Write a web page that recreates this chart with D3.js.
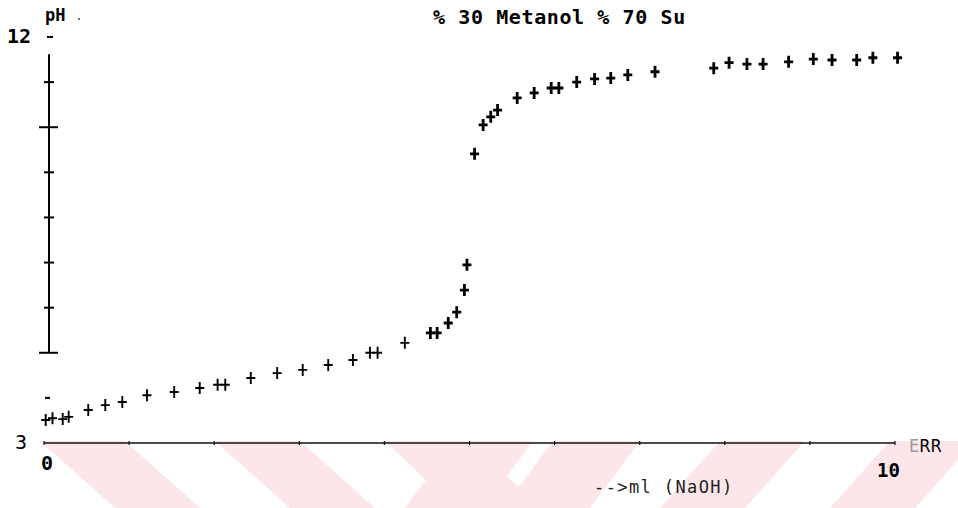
<!DOCTYPE html>
<html>
<head>
<meta charset="utf-8">
<script src="https://cdn.jsdelivr.net/npm/d3@7"></script>
<style>
  body { margin: 0; background: #fff; }
  svg { display: block; }
</style>
</head>
<body>
<div id="chart"></div>
<script>
// titration readings
var mlNaOH = [0.02, 0.10, 0.22, 0.29, 0.52, 0.72, 0.92, 1.21, 1.53, 1.83,
              2.04, 2.13, 2.43, 2.74, 3.04, 3.34, 3.63, 3.83, 3.92, 4.24,
              4.54, 4.62, 4.75, 4.85, 4.94, 4.97, 5.06, 5.16, 5.25, 5.33,
              5.56, 5.76, 5.96, 6.05, 6.26, 6.47, 6.66, 6.86, 7.18, 7.87,
              8.05, 8.26, 8.45, 8.75, 9.04, 9.26, 9.55, 9.74, 10.03];
var pHValues = [3.51, 3.55, 3.53, 3.58, 3.73, 3.84, 3.91, 4.06, 4.13, 4.22,
                4.29, 4.29, 4.44, 4.55, 4.62, 4.73, 4.84, 5.00, 5.00, 5.22,
                5.44, 5.44, 5.66, 5.90, 6.39, 6.95, 9.41, 10.05, 10.23, 10.38,
                10.65, 10.76, 10.87, 10.87, 11.00, 11.07, 11.09, 11.16, 11.23, 11.31,
                11.43, 11.40, 11.40, 11.45, 11.51, 11.49, 11.49, 11.54, 11.54];
var yTicks = [4, 5, 6, 7, 8, 9, 10, 11, 12];
var yBigTicks = [5, 10];
var xTicks = [0, 1, 2, 3, 4, 5, 6, 7, 8, 9, 10];
var title = "% 30 Metanol % 70 Su";
var xLabel = "-->ml (NaOH)";

var width = 958, height = 508;

var svg = d3.select("#chart")
  .append("svg")
    .attr("width", width)
    .attr("height", height);

var x = d3.scaleLinear().domain([0, 10]).range([44, 895]);
var y = d3.scaleLinear().domain([3, 12]).range([443, 37]);

// faint pink stamp at the bottom of the scan
var wm = svg.append("g").attr("fill", "#fde6ea");
var bands = [[40, 125, 75], [215, 300, 75], [385, 470, 70], [455, 533, -50],
             [553, 640, -50], [720, 805, -60], [890, 975, -60]];
bands.forEach(function (b) {
  wm.append("path")
    .attr("d", "M" + b[0] + ",441L" + b[1] + ",441L" + (b[1] + b[2]) + ",508L" + (b[0] + b[2]) + ",508Z");
});

// x axis
svg.append("line")
  .attr("x1", x(0)).attr("x2", x(10))
  .attr("y1", y(3)).attr("y2", y(3))
  .attr("stroke", "#111").attr("stroke-width", 1.6);
svg.append("g")
  .selectAll("line")
  .data(xTicks)
  .enter()
  .append("line")
    .attr("x1", function (d) { return x(d); })
    .attr("x2", function (d) { return x(d); })
    .attr("y1", y(3) - 2)
    .attr("y2", y(3) + 2)
    .attr("stroke", "#111").attr("stroke-width", 1.2);

// y axis (the scan only shows it from 5 up to ~11.6)
svg.append("line")
  .attr("x1", 49).attr("x2", 49)
  .attr("y1", y(5)).attr("y2", y(11.62))
  .attr("stroke", "#000").attr("stroke-width", 2);
svg.append("g")
  .selectAll("line")
  .data(yTicks)
  .enter()
  .append("line")
    .attr("x1", function (d) { return yBigTicks.indexOf(d) >= 0 ? 39 : (d == 4 ? 45 : (d == 12 ? 47 : 44)); })
    .attr("x2", function (d) { return yBigTicks.indexOf(d) >= 0 ? 58 : (d == 4 ? 50 : (d == 12 ? 53 : 54)); })
    .attr("y1", function (d) { return y(d); })
    .attr("y2", function (d) { return y(d); })
    .attr("stroke", "#000").attr("stroke-width", 2);

// tick labels
svg.append("text").attr("x", 7).attr("y", 43)
  .style("font", "bold 20px 'DejaVu Sans Mono'").text("12");
svg.append("text").attr("x", 15).attr("y", 449)
  .style("font", "20px 'DejaVu Sans Mono'").text("3");
svg.append("text").attr("x", 41).attr("y", 470)
  .style("font", "bold 20px 'DejaVu Sans Mono'").text("0");
svg.append("text").attr("x", 877).attr("y", 477)
  .style("font", "bold 19px 'DejaVu Sans Mono'").text("10");

// axis titles
svg.append("text").attr("x", 45).attr("y", 21)
  .style("font", "bold 17px 'DejaVu Sans Mono'").text("pH");
svg.append("circle").attr("cx", 79).attr("cy", 19).attr("r", 0.9).attr("fill", "#333");
svg.append("text").attr("x", 594).attr("y", 493)
  .style("font", "17px 'DejaVu Sans Mono'")
  .attr("fill", "#222")
  .attr("letter-spacing", 1.4)
  .text(xLabel);
svg.append("text").attr("x", 909).attr("y", 452)
  .style("font", "18px 'DejaVu Sans Condensed'")
  .call(function (t) {
    t.append("tspan").attr("fill", "#999").text("E");
    t.append("tspan").attr("fill", "#000").text("RR");
  });

// title
svg.append("text").attr("x", 433).attr("y", 24)
  .style("font", "bold 20px 'DejaVu Sans Mono'")
  .attr("letter-spacing", 0.6)
  .text(title);

// measured points as + marks
var pts = mlNaOH.map(function (d, i) { return [d, pHValues[i]]; });
svg.append("g")
  .selectAll("path")
  .data(pts)
  .enter()
  .append("path")
    .attr("d", "M-4.5,0H4.5M0,-6V6")
    .attr("transform", function (d) { return "translate(" + x(d[0]) + "," + y(d[1]) + ")"; })
    .attr("stroke", "#000")
    .attr("stroke-width", function (d) { return d[1] < 5.3 ? 1.9 : 2.8; })
    .attr("fill", "none");
</script>
</body>
</html>
